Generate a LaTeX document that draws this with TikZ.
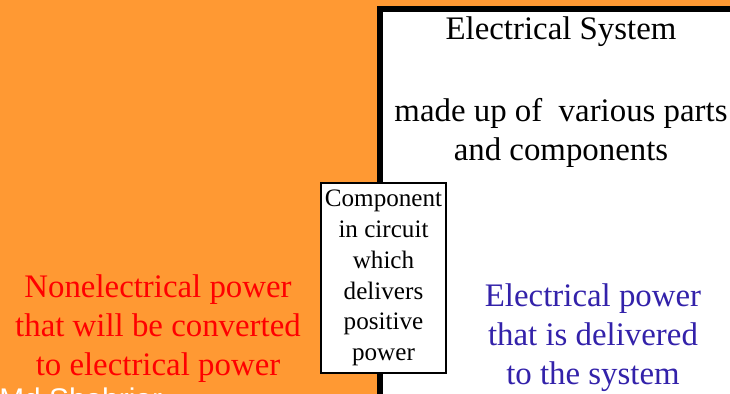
\documentclass[tikz,border=0pt]{standalone}
\usepackage{fontspec}
\setmainfont{Liberation Serif}
\setsansfont{Liberation Sans}
\usetikzlibrary{positioning}
\definecolor{slideorange}{RGB}{255,153,51}
\definecolor{powerblue}{RGB}{51,34,170}

\begin{document}
\begin{tikzpicture}[x=0.02cm,y=-0.02cm,
   big/.style={font=\fontsize{18.7}{22.4}\selectfont,align=center,inner sep=0,anchor=base},
   comp/.style={draw,line width=1.1pt,fill=white,align=center,inner sep=0,minimum width=2.5cm,minimum height=3.8cm,font=\fontsize{14.3}{17.5}\selectfont},
   credit/.style={font=\sffamily\fontsize{17}{20}\selectfont,text=white,inner sep=0,anchor=base west}]
  \useasboundingbox (0,0) rectangle (730,394);
  \clip (0,0) rectangle (730,394);
  \fill[slideorange] (0,0) rectangle (730,394);
  % electrical system box, runs off the slide
  \draw[line width=3.4pt,fill=white] (380,9) rectangle (760,430);
  % base anchor sits on the last line
  \node[big] (title) at (561,40) {Electrical System};
  \node[big,font=\fontsize{18.7}{22.7}\selectfont] (parts) at (561,161) {made up of\ \ various parts\\and components};
  \node[comp] (src) at (383.5,278) {Component\\in circuit\\which\\delivers\\positive\\power};
  \node[big,text=red] (nonel) at (158,376) {Nonelectrical power\\that will be converted\\to electrical power};
  \node[big,text=powerblue] (elec) at (593,385) {Electrical power\\that is delivered\\to the system};
  \node[credit] (author) at (-1,410) {Md Shahriar};
\end{tikzpicture}
\end{document}
